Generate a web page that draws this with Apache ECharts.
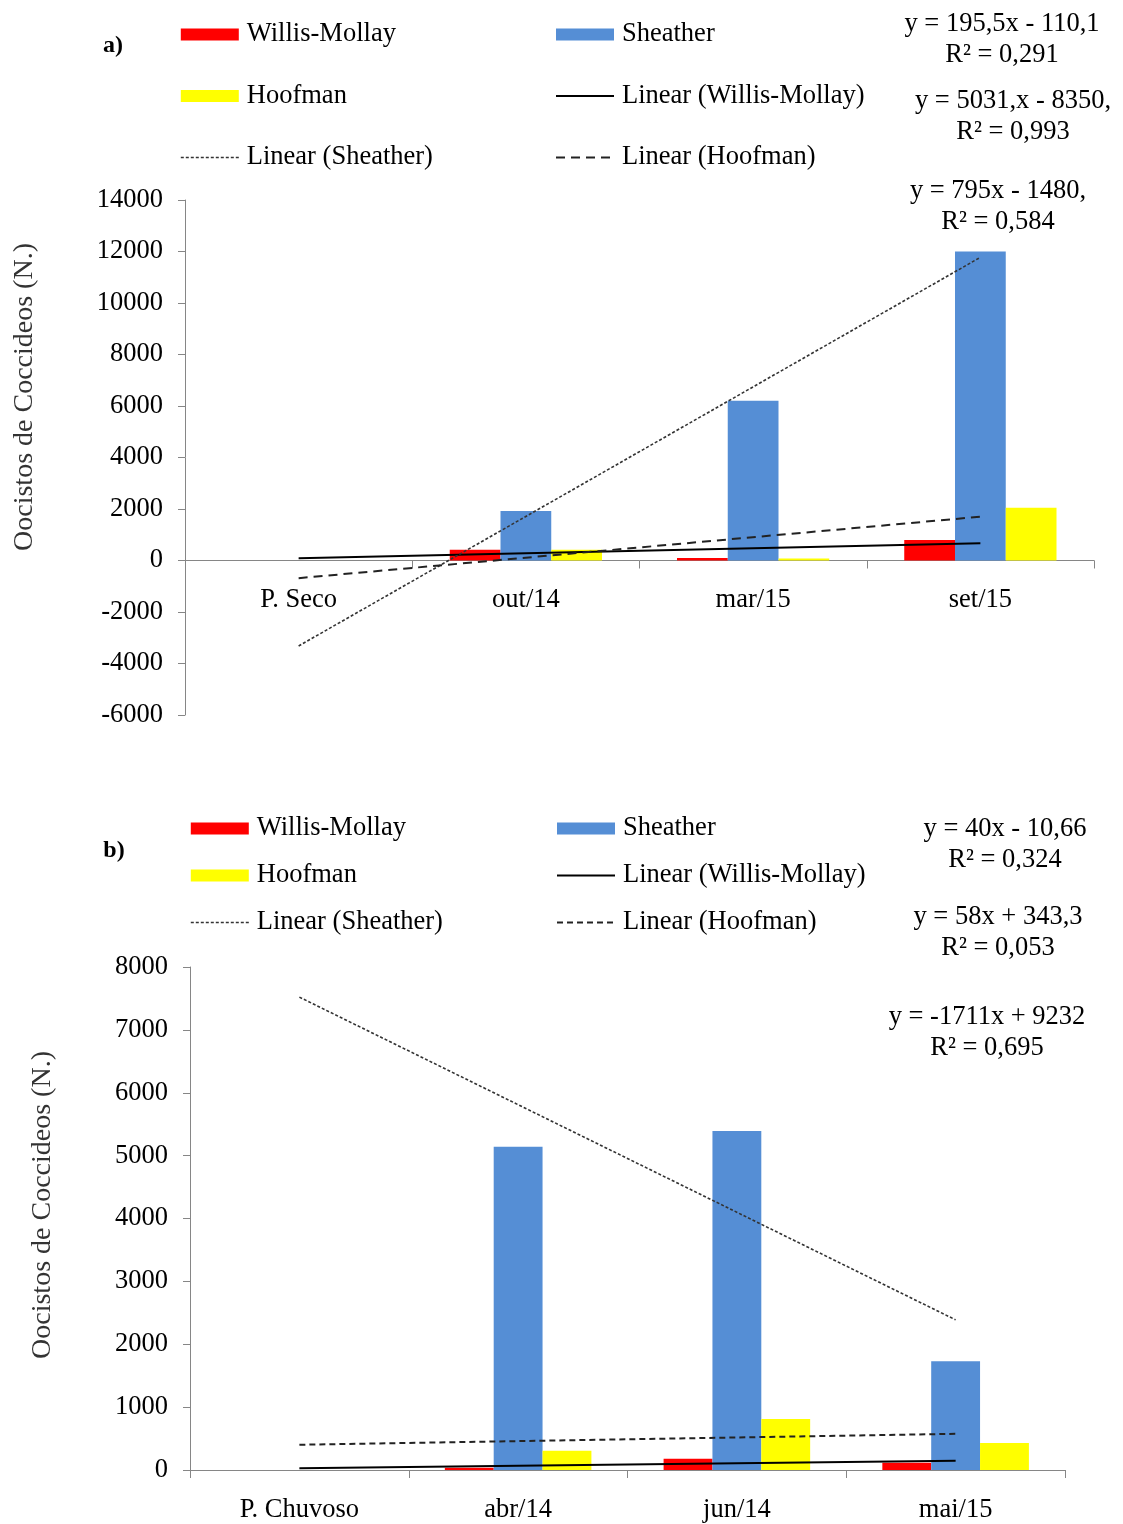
<!DOCTYPE html>
<html>
<head>
<meta charset="utf-8">
<script src="https://cdn.jsdelivr.net/npm/echarts@6/dist/echarts.min.js"></script>
<style>
html,body{margin:0;padding:0;background:#fff;}
#c{width:1123px;height:1524px;}
</style>
</head>
<body>
<div id="c"></div>
<script>
// ---------- Data: chart a (período seco) ----------
var catsA = ['P. Seco', 'out/14', 'mar/15', 'set/15'];
var willisA = [null, 420, 100, 800];
var sheatherA = [null, 1920, 6200, 12000];
var hoofA = [null, 420, 80, 2050];
// trend line end values (first and last category)
var willisTrendA = [85, 672];
var sheatherTrendA = [-3319, 11774];
var hoofTrendA = [-685, 1700];
var yTicksA = { min: -6000, max: 14000, interval: 2000 };
var eqA = [
  ['y = 195,5x - 110,1', 'R² = 0,291'],
  ['y = 5031,x - 8350,', 'R² = 0,993'],
  ['y = 795x - 1480,', 'R² = 0,584']
];

// ---------- Data: chart b (período chuvoso) ----------
var catsB = ['P. Chuvoso', 'abr/14', 'jun/14', 'mai/15'];
var willisB = [null, 35, 180, 115];
var sheatherB = [null, 5140, 5390, 1730];
var hoofB = [null, 305, 810, 430];
var willisTrendB = [29, 149];
var sheatherTrendB = [7521, 2388];
var hoofTrendB = [401, 575];
var yTicksB = { min: 0, max: 8000, interval: 1000 };
var eqB = [
  ['y = 40x - 10,66', 'R² = 0,324'],
  ['y = 58x + 343,3', 'R² = 0,053'],
  ['y = -1711x + 9232', 'R² = 0,695']
];

var yTitle = 'Oocistos de Coccideos (N.)';
var names = ['Willis-Mollay', 'Sheather', 'Hoofman', 'Linear (Willis-Mollay)', 'Linear (Sheather)', 'Linear (Hoofman)'];

// ---------- Styles ----------
var FONT = 'Liberation Serif';
var FS = 26.5;
var RED = '#FF0000', BLUE = '#558ED5', YEL = '#FFFF00';
var AXC = '#868686';

function trendPair(cats, v) { return [[cats[0], v[0]], [cats[cats.length - 1], v[1]]]; }

function barSeries(name, data, color, idx) {
  return { name: name, type: 'bar', xAxisIndex: idx, yAxisIndex: idx, data: data,
    barGap: '0%', barCategoryGap: '33%', itemStyle: { color: color }, z: 2 };
}
function lineSeries(name, data, ls, idx) {
  return { name: name, type: 'line', xAxisIndex: idx, yAxisIndex: idx, data: data,
    symbol: 'none', lineStyle: ls, z: 5, silent: true };
}

var lsW = { color: '#000', width: 2, type: 'solid' };
var lsS = { color: '#333', width: 1.6, type: [3, 2] };
var lsHa = { color: '#222', width: 2, type: [9, 6] };
var lsHb = { color: '#222', width: 2, type: [6, 4] };
var noDot = { opacity: 0, color: 'rgba(0,0,0,0)', borderWidth: 0 };

// labels of chart a sit just under the zero line, not at the grid bottom
function xAxisCfg(idx, cats, labelMargin) {
  return { type: 'category', gridIndex: idx, data: cats,
    axisLine: { onZero: true, lineStyle: { color: AXC, width: 1 } },
    axisTick: { show: true, length: 8, lineStyle: { color: AXC } },
    axisLabel: { margin: labelMargin, color: '#000', fontFamily: FONT, fontSize: FS },
    splitLine: { show: false } };
}
function yAxisCfg(idx, t) {
  return { type: 'value', gridIndex: idx, min: t.min, max: t.max, interval: t.interval,
    axisLine: { show: true, lineStyle: { color: AXC, width: 1 } },
    axisTick: { show: true, length: 7, lineStyle: { color: AXC } },
    axisLabel: { margin: 22, color: '#000', fontFamily: FONT, fontSize: FS,
      formatter: function (v) { return String(v); } },
    splitLine: { show: false } };
}

function legendCol(left, top, gap, items) {
  return { orient: 'vertical', left: left, top: top, itemGap: gap, itemWidth: 58, itemHeight: 12,
    selectedMode: false, padding: 0,
    textStyle: { fontFamily: FONT, fontSize: FS, color: '#000', padding: [0, 0, 0, 3] },
    data: items };
}

function eqTexts(list, pos) {
  var out = [];
  list.forEach(function (pair, i) {
    var p = pos[i];
    out.push({ type: 'text', x: p[0], y: p[1], style: { text: pair[0], fontFamily: FONT, fontSize: FS, fill: '#000', textAlign: 'center', textVerticalAlign: 'middle' } });
    out.push({ type: 'text', x: p[0], y: p[1] + 31, style: { text: pair[1], fontFamily: FONT, fontSize: FS, fill: '#000', textAlign: 'center', textVerticalAlign: 'middle' } });
  });
  return out;
}

var graphics = [
  { type: 'text', x: 113, y: 46, style: { text: 'a)', fontFamily: FONT, fontSize: 24, fontWeight: 'bold', fill: '#000', textAlign: 'center', textVerticalAlign: 'middle' } },
  { type: 'text', x: 114, y: 851, style: { text: 'b)', fontFamily: FONT, fontSize: 24, fontWeight: 'bold', fill: '#000', textAlign: 'center', textVerticalAlign: 'middle' } },
  { type: 'text', x: 25, y: 397, rotation: Math.PI / 2, style: { text: yTitle, fontFamily: FONT, fontSize: 28, fill: '#333', textAlign: 'center', textVerticalAlign: 'middle' } },
  { type: 'text', x: 43, y: 1205, rotation: Math.PI / 2, style: { text: yTitle, fontFamily: FONT, fontSize: 28, fill: '#333', textAlign: 'center', textVerticalAlign: 'middle' } }
].concat(eqTexts(eqA, [[1002, 24], [1013, 101], [998, 191]]))
 .concat(eqTexts(eqB, [[1005, 829], [998, 917], [987, 1017]]));

var option = {
  backgroundColor: '#fff',
  animation: false,
  grid: [
    { left: 185, right: 29, top: 200, bottom: 809, containLabel: false },
    { left: 190, right: 58, top: 967, bottom: 53, containLabel: false }
  ],
  xAxis: [xAxisCfg(0, catsA, -128), xAxisCfg(1, catsB, 27)],
  yAxis: [yAxisCfg(0, yTicksA), yAxisCfg(1, yTicksB)],
  legend: [
    legendCol(180, 21, 34.5, [
      { name: names[0], icon: 'rect' },
      { name: names[2], icon: 'rect' },
      { name: names[4], lineStyle: lsS, itemStyle: noDot }
    ]),
    legendCol(555, 21, 34.5, [
      { name: names[1], icon: 'rect' },
      { name: names[3], lineStyle: lsW, itemStyle: noDot },
      { name: names[5], lineStyle: lsHa, itemStyle: noDot }
    ]),
    legendCol(190, 815, 20, [
      { name: names[0], icon: 'rect' },
      { name: names[2], icon: 'rect' },
      { name: names[4], lineStyle: lsS, itemStyle: noDot }
    ]),
    legendCol(556, 815, 20, [
      { name: names[1], icon: 'rect' },
      { name: names[3], lineStyle: lsW, itemStyle: noDot },
      { name: names[5], lineStyle: lsHb, itemStyle: noDot }
    ])
  ],
  graphic: graphics,
  series: [
    barSeries(names[0], willisA, RED, 0),
    barSeries(names[1], sheatherA, BLUE, 0),
    barSeries(names[2], hoofA, YEL, 0),
    lineSeries(names[3], trendPair(catsA, willisTrendA), lsW, 0),
    lineSeries(names[4], trendPair(catsA, sheatherTrendA), lsS, 0),
    lineSeries(names[5], trendPair(catsA, hoofTrendA), lsHa, 0),
    barSeries(names[0], willisB, RED, 1),
    barSeries(names[1], sheatherB, BLUE, 1),
    barSeries(names[2], hoofB, YEL, 1),
    lineSeries(names[3], trendPair(catsB, willisTrendB), lsW, 1),
    lineSeries(names[4], trendPair(catsB, sheatherTrendB), lsS, 1),
    lineSeries(names[5], trendPair(catsB, hoofTrendB), lsHb, 1)
  ]
};

var chart = echarts.init(document.getElementById('c'), null, { renderer: 'canvas' });
chart.setOption(option);
</script>
</body>
</html>
